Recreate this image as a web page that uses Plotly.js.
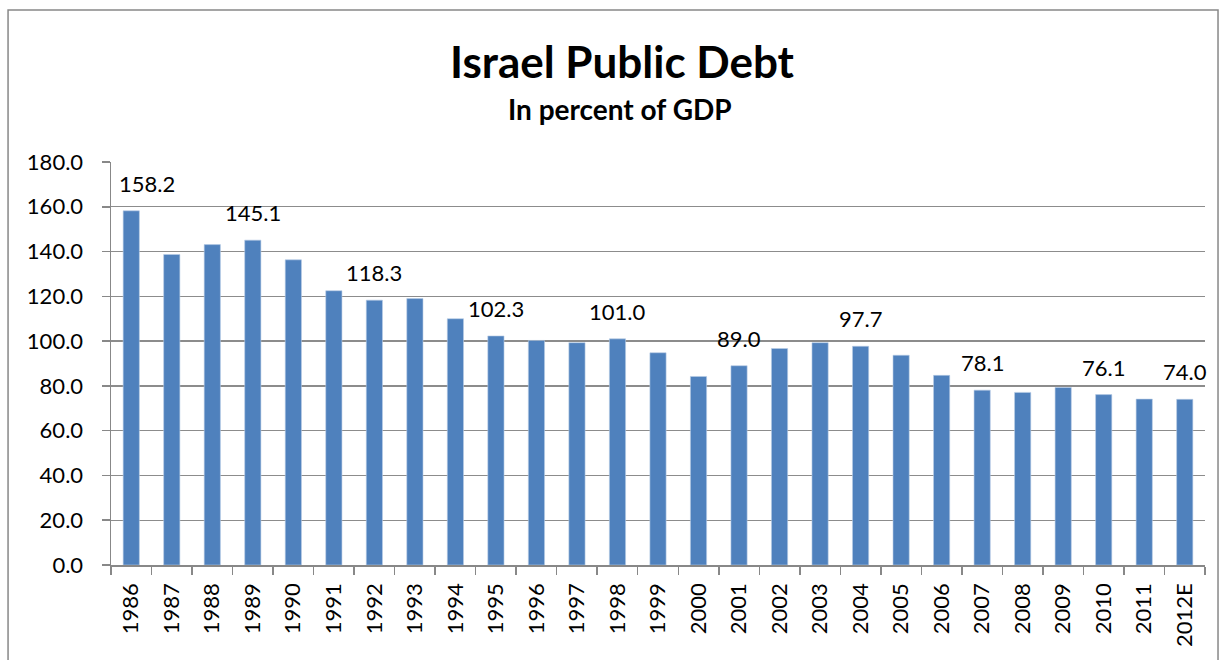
<!DOCTYPE html>
<html>
<head>
<meta charset="utf-8">
<script src="https://cdn.plot.ly/plotly-3.0.1.min.js"></script>
<style>html,body{margin:0;padding:0;background:#fff;}</style>
</head>
<body>
<div id="chart" style="width:1228px;height:660px;"></div>
<script>
const years = ['1986','1987','1988','1989','1990','1991','1992','1993','1994','1995','1996','1997','1998','1999','2000','2001','2002','2003','2004','2005','2006','2007','2008','2009','2010','2011','2012E'];
const debtPctGDP = [158.2,138.7,143.1,145.1,136.3,122.5,118.3,119.0,110.0,102.3,100.3,99.3,101.0,94.8,84.2,89.0,96.7,99.3,97.7,93.7,84.7,78.1,77.1,79.3,76.1,74.1,74.0];
const labeledYears = ['1986','1989','1992','1995','1998','2001','2004','2007','2010','2012E'];
const yTickVals = [0,20,40,60,80,100,120,140,160,180];

const FONT = 'Lato, "Open Sans", sans-serif';

const trace = {
  type: 'bar',
  x: years,
  y: debtPctGDP,
  marker: {color: '#4F81BD', line: {color: '#B9CDE5', width: 0.6}},
  hoverinfo: 'x+y'
};

const annotations = labeledYears.map(function(yr){
  const i = years.indexOf(yr);
  return {
    x: i, y: debtPctGDP[i], xref: 'x', yref: 'y',
    text: debtPctGDP[i].toFixed(1),
    showarrow: false, yanchor: 'bottom', xanchor: 'center',
    yshift: 12, xshift: (i === 0 ? 16 : 0),
    font: {family: FONT, size: 22, color: '#000'}
  };
});
annotations.push({
  text: '<b>In percent of GDP</b>', xref: 'paper', yref: 'paper',
  x: 0.4653, y: 1.131, xanchor: 'center', yanchor: 'middle', showarrow: false,
  font: {family: FONT, size: 28, color: '#000'}
});

const layout = {
  width: 1228, height: 660,
  margin: {l: 111, r: 23, t: 162, b: 95},
  paper_bgcolor: '#fff', plot_bgcolor: '#fff',
  font: {family: FONT, size: 22, color: '#000'},
  title: {
    text: '<b>Israel Public Debt</b>',
    x: 0.5065, xref: 'container', xanchor: 'center',
    y: 0.905, yref: 'container', yanchor: 'middle',
    font: {family: FONT, size: 44, color: '#000'}
  },
  bargap: 0.6,
  showlegend: false,
  xaxis: {
    type: 'category',
    range: [-0.5, years.length - 0.5],
    autorange: false,
    tickangle: -90,
    ticks: 'outside', ticklen: 8, tickcolor: '#888', tickwidth: 1.5,
    tickson: 'boundaries',
    showline: true, linecolor: '#888', linewidth: 1.5,
    showgrid: false,
    tickfont: {family: FONT, size: 22, color: '#000'},
    ticklabelstandoff: 8
  },
  yaxis: {
    range: [0, 180],
    autorange: false,
    tickvals: yTickVals,
    tickformat: '.1f',
    ticks: 'outside', ticklen: 8, tickcolor: '#888', tickwidth: 1.5,
    showline: true, linecolor: '#888', linewidth: 1.5,
    showgrid: true, gridcolor: '#8c8c8c', gridwidth: 1.3,
    zeroline: false,
    tickfont: {family: FONT, size: 22, color: '#000'},
    ticklabelstandoff: 14
  },
  annotations: annotations,
  shapes: [{
    type: 'rect', xref: 'paper', yref: 'paper',
    x0: -0.0941, x1: 1.0119, y0: -0.5, y1: 1.377,
    line: {color: '#888', width: 1.5}, fillcolor: 'rgba(0,0,0,0)', layer: 'below'
  }]
};

Plotly.newPlot('chart', [trace], layout, {displayModeBar: false, staticPlot: true});
</script>
</body>
</html>
